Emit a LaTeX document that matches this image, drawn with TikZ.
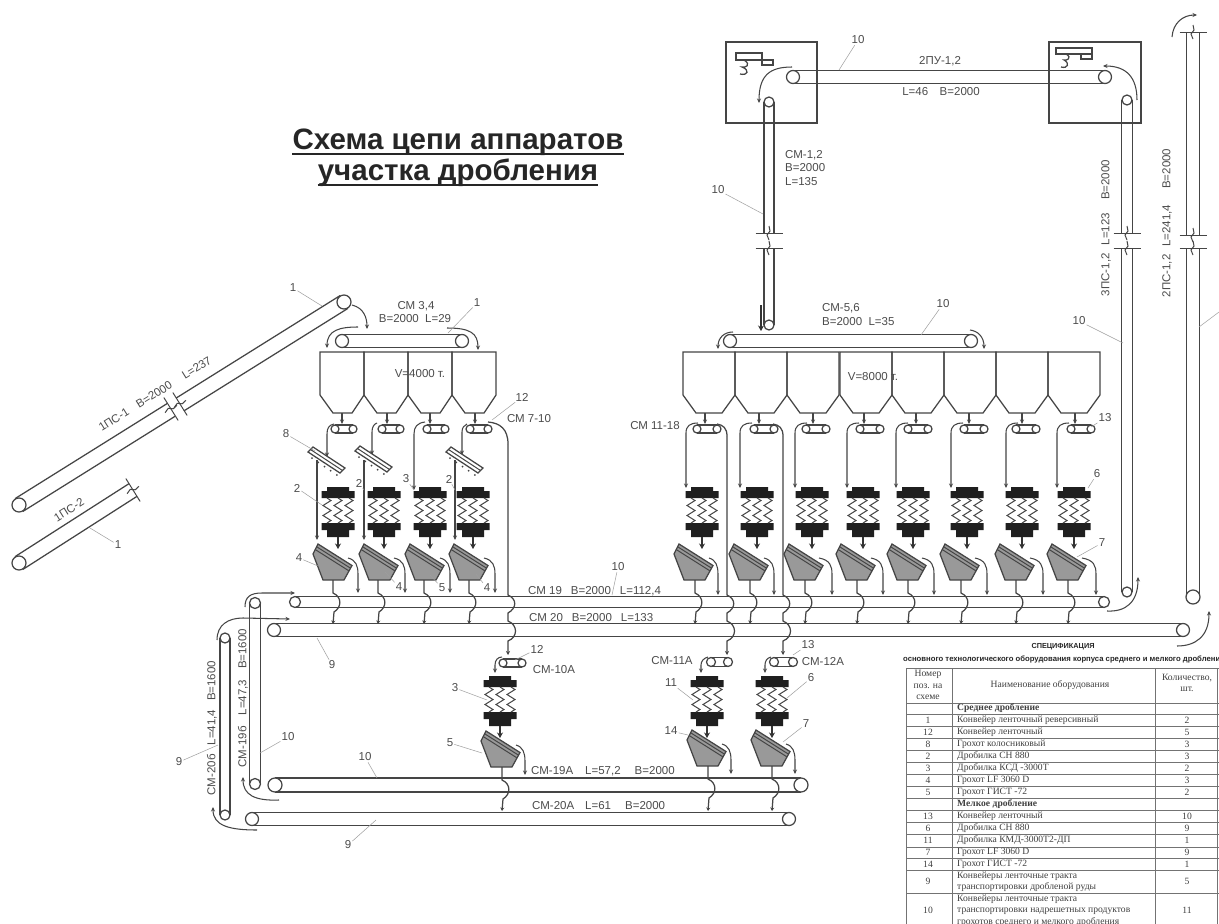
\documentclass[tikz,border=0pt]{standalone}
\usepackage{fontspec}
\setmainfont{Liberation Sans}
\newfontfamily\tblfont{Liberation Serif}
\usetikzlibrary{arrows.meta}
\definecolor{ink}{gray}{0.27}
\definecolor{txt}{gray}{0.3}
\definecolor{scr}{gray}{0.6}
\tikzset{
  ln/.style={draw=ink,line width=1.25pt},
  thinln/.style={draw=ink,line width=1pt},
  ar/.style={draw=ink,line width=1.05pt,-{Stealth[length=4.5pt,width=4pt]}},
  thar/.style={draw=black!80,line width=1.3pt,-{Stealth[length=5.5pt,width=6pt]}},
  lab/.style={text=txt,font=\fontsize{11.5}{12}\selectfont,inner sep=1pt},
  leader/.style={draw=black!38,line width=0.5pt},
  tbl/.style={draw=black!55,line width=0.7pt},
  tt/.style={font=\tblfont\fontsize{9.6}{11.5}\selectfont,text=black!75,inner sep=0pt}
}
\newcount\lcnt
\newcommand\Lb[4][]{\global\advance\lcnt by 1
  \node[lab,#1] (l\the\lcnt) at (#2,#3) {#4};}
\newcommand\Ld[5]{\global\advance\lcnt by 1
  \node[lab] (l\the\lcnt) at (#1,#2) {#3};
  \coordinate (c\the\lcnt) at (#4,#5);
  \draw[leader] (l\the\lcnt) -- (c\the\lcnt);}
\newcommand\Belt[5]{%
  \pgfmathsetmacro\dxx{(#3)-(#1)}\pgfmathsetmacro\dyy{(#4)-(#2)}%
  \pgfmathsetmacro\lenn{veclen(\dxx,\dyy)}%
  \pgfmathsetmacro\nnx{-\dyy/\lenn*#5}\pgfmathsetmacro\nny{\dxx/\lenn*#5}%
  \draw[ln] ({#1+\nnx},{#2+\nny}) -- ({#3+\nnx},{#4+\nny});
  \draw[ln] ({#1-\nnx},{#2-\nny}) -- ({#3-\nnx},{#4-\nny});}
\newcommand\Pul[3]{\draw[ln,fill=white] (#1,#2) circle[radius=#3pt];}
\newcommand\Conv[5]{\Belt{#1}{#2}{#3}{#4}{#5}\Pul{#1}{#2}{#5}\Pul{#3}{#4}{#5}}
\newcommand\Brk[3]{\begin{scope}[shift={(#1,#2)},rotate=#3]
  \draw[thinln] (-13.5,0) -- (13.5,0);
  \draw[thinln] (0,-7) -- (1,-2) -- (-2,2) -- (0,7);
  \end{scope}}
\newcommand\Crush[2]{%
  \fill[black!88] (#1-11,#2) -- (#1+11,#2) -- (#1+11,#2+4) -- (#1+16.5,#2+4) -- (#1+16.5,#2+11) -- (#1-16.5,#2+11) -- (#1-16.5,#2+4) -- (#1-11,#2+4) -- cycle;
  \fill[black!88] (#1-16.5,#2+36) -- (#1+16.5,#2+36) -- (#1+16.5,#2+43) -- (#1+11,#2+43) -- (#1+11,#2+50) -- (#1-11,#2+50) -- (#1-11,#2+43) -- (#1-16.5,#2+43) -- cycle;
  \foreach \dd in {-11,0,11} {
    \draw[thinln] (#1+\dd,#2+11) -- ++(4,2.5) -- ++(-8,5) -- ++(8,5) -- ++(-8,5) -- ++(8,5) -- ++(-4,2.5);
  }
  \draw[thar] (#1,#2+50) -- (#1,#2+62);}
% screen: bottom centre x, bottom y, outlet x, arrow x, arrow end y
\newcommand\Scrn[5]{%
  \draw[ln,fill=scr] (#1-16,#2-36) -- (#1+18,#2-14.5) -- (#1+10,#2) -- (#1-11,#2) -- (#1-21,#2-26) -- cycle;
  \draw[thinln] (#1-17.6,#2-33.4) -- (#1+16.4,#2-11.9);
  \draw[thinln] (#1-19,#2-30.6) -- (#1+15,#2-9.1);
  \draw[ar] (#1+14,#2-22) .. controls (#4-2,#2-20) and (#4,#2-14) .. (#4,#2-6) -- (#4,#5);}
\newcommand\Wig[3]{% x, y start (just above belt), bottom arrow y: crosses belt pair
  \draw[ln,-{Stealth[length=3.5pt,width=4pt]}] (#1,#2) -- (#1,#2+13) .. controls (#1+9,#2+17) and (#1+9,#2+27) .. (#1+1,#2+32) -- (#1,#3);}
\newcommand\LongDrop[3]{% x, y top, end y
  \draw[ln,-{Stealth[length=4pt,width=4pt]}] (#1,#2) -- (#1,595) .. controls (#1+9,599) and (#1+9,608) .. (#1,613) -- (#1,621)
    .. controls (#1+10,625) and (#1+10,637) .. (#1,641) -- (#1,#3);}
\newcommand\Griz[2]{%
  \draw[ln,fill=white] (#1-19,#2-10) -- (#1-14,#2-15) -- (#1+18,#2+6) -- (#1+13,#2+11) -- cycle;
  \draw[thinln] (#1-16.5,#2-12.5) -- (#1+15.5,#2+8.5);
  \foreach \ttv in {0.1,0.3,0.5,0.7,0.9} {\fill[ink] ({#1-18+\ttv*31},{#2-6+\ttv*21}) circle[radius=1pt];}}
\begin{document}
\begin{tikzpicture}[x=1pt,y=-1pt]
\useasboundingbox (0,0) rectangle (1219,924);
\fill[white] (0,0) rectangle (1219,924);

% Title
\node[font=\bfseries\fontsize{29.5}{32}\selectfont,text=black!85,inner sep=0pt] (t1) at (458,142) {Схема цепи аппаратов};
\node[font=\bfseries\fontsize{29.5}{32}\selectfont,text=black!85,inner sep=0pt] (t2) at (458,173) {участка дробления};
\draw[black!85,line width=1.8pt] ([yshift=-4.5pt]t1.base west) -- ([yshift=-4.5pt]t1.base east);
\draw[black!85,line width=1.8pt] ([yshift=-4.5pt]t2.base west) -- ([yshift=-4.5pt]t2.base east);

% incoming inclined conveyors
\Belt{19}{505}{171}{410}{7.5}
\Belt{180}{404.5}{344}{302}{7.5}
\Pul{19}{505}{7}\Pul{344}{302}{7}
\Brk{171}{409}{-58}\Brk{180}{404}{-58}
\Belt{19}{563}{133}{490}{7.5}\Pul{19}{563}{7}
\Brk{133}{490}{-58}
\Lb[rotate=32]{155}{394}{1ПС-1\hspace{11pt}B=2000\hspace{14pt}L=237}
\Lb[rotate=32]{69}{510}{1ПС-2}
\Ld{118}{545}{1}{90}{528}

% Middle crushing: conveyor 3,4 and bins
\Conv{342}{341}{462}{341}{6.5}
\draw[ar] (352,305) .. controls (364,308) and (367,318) .. (367,329);
\draw[ar] (358,327) .. controls (340,327) and (327,330) .. (327,348);
\draw[ar] (447,328) .. controls (470,328) and (478,333) .. (478,350);
\foreach \bx in {320,364,408,452} {
 \draw[ln] (\bx,352) -- (\bx,395) -- (\bx+13,413) -- (\bx+32,413) -- (\bx+44,395) -- (\bx+44,352) -- cycle;
}
\Lb{416}{306}{СМ 3,4}
\Lb{415}{319}{B=2000\ \ L=29}
\Lb{420}{374}{V=4000 т.}
\Ld{293}{288}{1}{322}{306}
\Ld{477}{303}{1}{448}{333}
\foreach \a/\c in {342/344,387/391,430/436,475/479} {
 \draw[ar] (\a,413) -- (\a,424);
 \Conv{\c-9}{429}{\c+9}{429}{4}
}
\foreach \u in {317,364,455} {\draw[ar] (\u,460) -- (\u,540);}
\draw[ar] (334,424) .. controls (329,425) and (327,428) .. (327,434) -- (327,457);
\draw[ar] (377,423) .. controls (374,424) and (372,427) .. (372,432) -- (372,455);
\draw[ar] (467,424) .. controls (464,425) and (462,428) .. (462,432) -- (462,455);
\draw[ar] (425,422) .. controls (417,423) and (414,427) .. (414,434) -- (414,490);
\Griz{327}{462}\Griz{374}{461}\Griz{465}{462}

% main belts
\Conv{295}{602}{1104}{602}{5.5}
\Conv{274}{630}{1183}{630}{6.5}
\Conv{255}{603}{255}{784}{5.5}
\Conv{225}{638}{225}{815}{5}
\Conv{275}{785}{801}{785}{7}
\Conv{252}{819}{789}{819}{6.5}

% four left chains
\foreach \c/\b/\o/\x in {338/334/333/358,384/380/378/405,430/426/424/450,473/470/469/495} {
 \Crush{\c}{487}
 \Scrn{\b}{580}{\o}{\x}{593}
 \Wig{\o}{580}{624}
}
\draw[ln] (488,422) .. controls (500,423) and (508,429) .. (508,444);
\LongDrop{508}{444}{655}
\Ld{522}{397}{12}{492}{420}
\Lb{529}{419}{СМ 7-10}
\Ld{286}{434}{8}{315}{451}
\Ld{297}{488}{2}{322}{505}
\Ld{359}{483}{2}{364}{490}
\Ld{406}{479}{3}{414}{490}
\Ld{449}{479}{2}{455}{490}
\Ld{299}{558}{4}{318}{566}
\Ld{399}{587}{4}{385}{572}
\Ld{442}{588}{5}{430}{575}
\Ld{487}{588}{4}{476}{574}

% arrows around the main belts
\draw[ar] (245,607) .. controls (245,597) and (250,593) .. (262,593) -- (295,593);
\draw[ar] (217,640) .. controls (217,625) and (228,618) .. (243,618) -- (290,619);
\draw[ar] (279,800) .. controls (255,801) and (243,795) .. (243,777);
\draw[ar] (257,830) .. controls (230,830) and (213,826) .. (213,807);
\draw[ar] (1107,611) .. controls (1125,612) and (1138,603) .. (1138,577);
\draw[ar] (1177,646) .. controls (1195,646) and (1209,637) .. (1209,611);

\Lb[anchor=west]{527}{591}{СМ 19\hspace{9pt}B=2000\hspace{9pt}L=112,4}
\Lb[anchor=west]{528}{618}{СМ 20\hspace{9pt}B=2000\hspace{9pt}L=133}
\Ld{618}{567}{10}{612}{595}
\Ld{332}{665}{9}{317}{638}
\Ld{179}{762}{9}{218}{745}
\Ld{288}{737}{10}{260}{753}
\Lb[rotate=90]{212}{728}{СМ-20б\hspace{9pt}L=41,4\hspace{9pt}B=1600}
\Lb[rotate=90]{243}{698}{СМ-19б\hspace{11pt}L=47,3\hspace{11pt}B=1600}

% CM-10A chain
\Conv{503}{663}{522}{663}{4}
\draw[ar] (502,657) .. controls (498,657) and (495,660) .. (495,665) -- (495,673);
\Crush{500}{676}
\Scrn{502}{767}{502}{525}{775}
\Wig{502}{767}{811}
\Ld{537}{649}{12}{515}{660}
\Lb{554}{670}{СМ-10А}
\Ld{455}{688}{3}{487}{700}
\Ld{450}{743}{5}{482}{753}
\Lb[anchor=west]{530}{771}{СМ-19А\hspace{12pt}L=57,2\hspace{14pt}B=2000}
\Lb[anchor=west]{531}{806}{СМ-20А\hspace{11pt}L=61\hspace{14pt}B=2000}
\Ld{365}{757}{10}{377}{778}
\Ld{348}{845}{9}{376}{820}

% right bins
\foreach \bx in {683,735,787,840,892,944,996,1048} {
 \draw[ln] (\bx,352) -- (\bx,395) -- (\bx+13,413) -- (\bx+39,413) -- (\bx+52,395) -- (\bx+52,352) -- cycle;
}
\Lb{873}{377}{V=8000 т.}
\foreach \a/\v/\l/\c/\b/\x in {705/707/686/702/695/718,759/764/740/757/750/774,813/816/795/812/805/832,864/870/847/863/857/883,916/918/896/913/908/934,969/974/951/967/961/987,1022/1026/1006/1022/1016/1043,1075/1081/1057/1074/1068/1096} {
 \draw[ar] (\a,413) -- (\a,424);
 \Conv{\v-10}{429}{\v+10}{429}{4}
 \draw[ar] (\l+12,423) .. controls (\l+4,423) and (\l,426) .. (\l,433) -- (\l,488);
 \Crush{\c}{487}
 \Scrn{\b}{580}{\b}{\x}{595}
 \Wig{\b}{580}{624}
}
\draw[ln] (717,424) .. controls (723,425) and (727,428) .. (727,436);
\LongDrop{727}{436}{655}
\draw[ln] (773,424) .. controls (779,425) and (783,428) .. (783,436);
\LongDrop{783}{436}{655}
\Lb{655}{426}{СМ 11-18}
\Ld{1105}{418}{13}{1091}{427}
\Ld{1097}{474}{6}{1088}{488}
\Ld{1102}{543}{7}{1077}{557}

% CM-11A / 12A chains
\Conv{711}{662}{728}{662}{4.5}
\Conv{774}{662}{793}{662}{4.5}
\draw[ar] (708,657) .. controls (704,658) and (701,661) .. (701,665) -- (701,673);
\draw[ar] (771,657) .. controls (767,658) and (765,661) .. (765,665) -- (765,673);
\Crush{707}{676}\Crush{772}{676}
\Scrn{708}{766}{708}{731}{774}
\Scrn{772}{766}{772}{795}{774}
\Wig{708}{766}{811}
\Wig{772}{766}{811}
\Lb{672}{661}{СМ-11А}
\Lb{823}{662}{СМ-12А}
\Ld{808}{645}{13}{793}{655}
\Ld{671}{683}{11}{693}{700}
\Ld{671}{731}{14}{688}{735}
\Ld{811}{678}{6}{787}{698}
\Ld{806}{724}{7}{783}{742}

% Upper gallery
\draw[ln] (726,42) rectangle (817,123);
\draw[ln] (1049,42) rectangle (1141,123);
\draw[ln] (736,53) rectangle (762,60);
\draw[ln] (762,60) rectangle (773,65);
\draw[ln] (744,60) .. controls (752,65) and (745,68) .. (742,67) .. controls (750,70) and (748,76) .. (740,74);
\draw[ln] (1056,48) rectangle (1092,54);
\draw[ln] (1081,54) rectangle (1092,59);
\draw[ln] (1066,54) .. controls (1073,58) and (1066,61) .. (1064,60) .. controls (1070,63) and (1068,69) .. (1061,67);
\Conv{793}{77}{1105}{77}{6.5}
\Belt{769}{102}{769}{233}{5}\Belt{769}{248}{769}{325}{5}
\Pul{769}{102}{5}\Pul{769}{325}{5}
\Brk{769}{233}{0}\Brk{769}{248}{0}
\Belt{1127}{100}{1127}{233}{5.5}\Belt{1127}{248}{1127}{592}{5.5}
\Pul{1127}{100}{5}\Pul{1127}{592}{5}
\Brk{1127}{233}{0}\Brk{1127}{248}{0}
\Belt{1193}{32}{1193}{235}{6.5}\Belt{1193}{248}{1193}{597}{6.5}
\Pul{1193}{597}{7}
\Brk{1193}{32}{0}\Brk{1193}{235}{0}\Brk{1193}{248}{0}
\draw[ar] (1172,37) .. controls (1173,23) and (1183,15) .. (1197,15);
\draw[ar] (792,67) .. controls (770,67) and (759,75) .. (759,103);
\draw[ar] (1137,100) .. controls (1137,78) and (1127,66) .. (1103,66);
\draw[thar] (761,305) -- (761,331);
\Conv{730}{341}{971}{341}{6.5}
\draw[ar] (733,332) .. controls (725,332) and (718,337) .. (718,349);
\draw[ar] (970,330) .. controls (978,331) and (984,337) .. (984,349);
\Lb{940}{61}{2ПУ-1,2}
\Lb{941}{92}{L=46\quad B=2000}
\Ld{858}{40}{10}{839}{70}
\Lb[anchor=west]{784}{155}{СМ-1,2}
\Lb[anchor=west]{784}{168}{B=2000}
\Lb[anchor=west]{784}{182}{L=135}
\Ld{718}{190}{10}{763}{214}
\Lb[anchor=west]{821}{308}{СМ-5,6}
\Lb[anchor=west]{821}{322}{B=2000\ \ L=35}
\Ld{943}{304}{10}{921}{335}
\Ld{1079}{321}{10}{1123}{343}
\Lb[rotate=90]{1106}{228}{3ПС-1,2\hspace{8pt}L=123\hspace{13pt}B=2000}
\Lb[rotate=90]{1167}{223}{2ПС-1,2\hspace{8pt}L=241,4\hspace{16pt}B=2000}
\coordinate (e1) at (1219,312);\coordinate (e2) at (1199,327);
\draw[leader] (e2) -- (e1);

% Specification table
\begin{scope}
\clip (900,640) rectangle (1219,924);
\node[font=\bfseries\fontsize{7.3}{8}\selectfont,text=black!85,inner sep=0pt] (sp) at (1063,647) {СПЕЦИФИКАЦИЯ};
\node[font=\bfseries\fontsize{7.7}{8}\selectfont,text=black!85,anchor=west,inner sep=0pt] (sq) at (903,659) {основного технологического оборудования корпуса среднего и мелкого дробления};
\draw[tbl] (906,668) -- (1219,668);
\foreach \y in {703,714,726,738,750,762,774,786,798,810,822,834,847,858,870,893} {\draw[tbl] (906,\y) -- (1219,\y);}
\draw[tbl] (906,668) -- (906,924);
\draw[tbl] (952,668) -- (952,924);
\draw[tbl] (1155,668) -- (1155,924);
\draw[tbl] (1217,668) -- (1217,924);
\node[tt,align=center] (h1) at (928,685) {Номер\\поз. на\\схеме};
\node[tt] (h2) at (1050,685) {Наименование оборудования};
\node[tt,align=center] (h3) at (1187,683) {Количество,\\шт.};
\node[tt,anchor=west,font=\tblfont\bfseries\fontsize{9.6}{11}\selectfont] (g1) at (957,708.5) {Среднее дробление};
\node[tt,anchor=west,font=\tblfont\bfseries\fontsize{9.6}{11}\selectfont] (g2) at (957,804) {Мелкое дробление};
\foreach \y/\n/\t/\q in {
 720/1/{Конвейер ленточный реверсивный}/2,
 732/12/{Конвейер ленточный}/5,
 744/8/{Грохот колосниковый}/3,
 756/2/{Дробилка СН 880}/3,
 768/3/{Дробилка КСД -3000Т}/2,
 780/4/{Грохот LF 3060 D}/3,
 792/5/{Грохот ГИСТ -72}/2,
 816/13/{Конвейер ленточный}/10,
 828/6/{Дробилка СН 880}/9,
 840/11/{Дробилка КМД-3000Т2-ДП}/1,
 852/7/{Грохот LF 3060 D}/9,
 864/14/{Грохот ГИСТ -72}/1} {
 \node[tt] at (928,\y) {\n};
 \node[tt,anchor=west] at (957,\y) {\t};
 \node[tt] at (1187,\y) {\q};
}
\node[tt] (r9) at (928,881) {9};
\node[tt,anchor=west,align=left] (r9t) at (957,881.5) {Конвейеры ленточные тракта\\транспортировки дробленой руды};
\node[tt] (r9q) at (1187,881) {5};
\node[tt] (r10) at (928,910) {10};
\node[tt,anchor=north west,align=left] (r10t) at (957,894.5) {Конвейеры ленточные тракта\\транспортировки надрешетных продуктов\\грохотов среднего и мелкого дробления};
\node[tt] (r10q) at (1187,910) {11};
\end{scope}
\end{tikzpicture}
\end{document}
